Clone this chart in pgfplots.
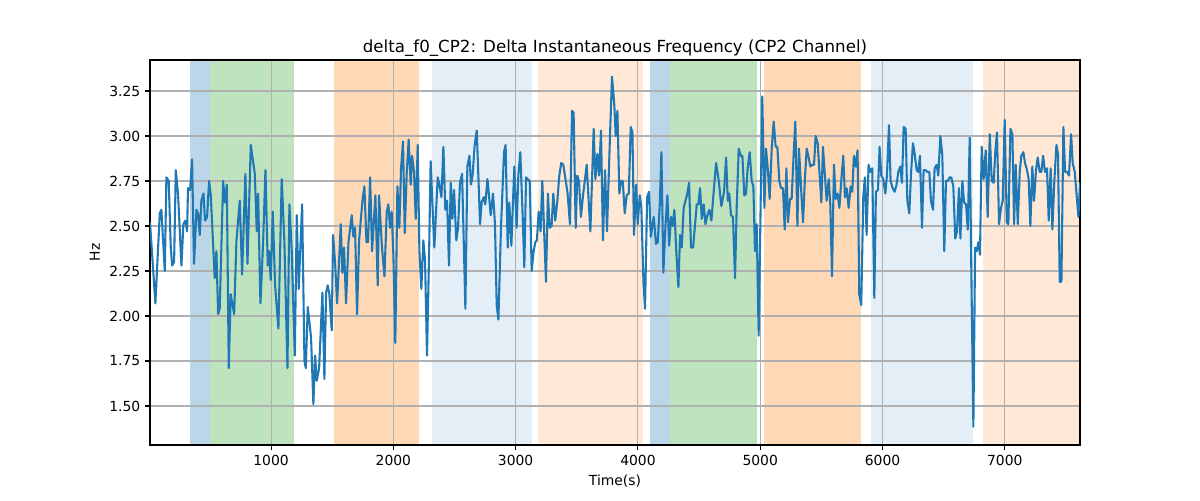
\documentclass[border=0pt]{standalone}
\usepackage{pgfplots}
\pgfplotsset{compat=1.18}
\usepackage{pgfplotstable}
\usepackage{fontspec}
\setmainfont{DejaVu Sans}
\definecolor{tabblue}{HTML}{1F77B4}
\definecolor{tabgreen}{HTML}{2CA02C}
\definecolor{taborange}{HTML}{FF7F0E}
\definecolor{gridgray}{HTML}{B0B0B0}
\pgfplotstableread{
x y
10 2.52
54 2.07
90 2.57
103 2.59
131 2.25
144 2.77
163 2.75
180 2.38
191 2.28
207 2.30
221 2.81
240 2.67
267 2.28
283 2.51
300 2.53
313 2.47
321 2.71
338 2.70
354 2.87
370 2.29
390 2.59
403 2.57
417 2.45
430 2.64
447 2.68
460 2.53
477 2.55
493 2.75
507 2.67
539 2.21
553 2.36
567 2.01
580 2.04
608 2.75
624 2.63
638 2.73
654 1.71
670 2.12
698 2.01
717 2.42
744 2.64
763 2.23
790 2.79
807 2.29
834 2.95
867 2.79
883 2.47
894 2.68
913 2.07
935 2.41
954 2.81
973 2.28
984 2.36
997 2.20
1014 2.58
1033 2.17
1060 1.93
1087 2.76
1109 2.41
1134 1.71
1150 2.62
1169 2.36
1194 1.78
1210 2.56
1226 2.15
1254 2.62
1273 1.75
1284 1.71
1300 2.05
1327 1.88
1346 1.51
1360 1.78
1374 1.64
1393 1.71
1420 2.13
1436 1.65
1450 2.13
1463 2.17
1477 2.12
1496 1.92
1507 2.45
1523 2.30
1540 2.07
1570 2.51
1583 2.24
1597 2.38
1613 2.07
1633 2.41
1660 2.56
1673 2.44
1687 2.49
1703 2.01
1720 2.42
1747 2.64
1763 2.72
1780 2.41
1793 2.41
1810 2.77
1826 2.36
1853 2.67
1872 2.17
1883 2.67
1905 2.40
1927 2.22
1946 2.58
1959 2.62
1973 2.49
1986 2.58
2000 2.34
2016 1.85
2033 2.72
2049 2.49
2063 2.82
2079 2.97
2093 2.46
2109 2.79
2125 2.98
2142 2.73
2153 2.89
2169 2.80
2183 2.54
2199 2.95
2213 2.36
2229 2.15
2245 2.42
2259 2.31
2275 1.78
2292 2.34
2305 2.86
2319 2.63
2335 2.38
2349 2.58
2363 2.77
2376 2.73
2393 2.66
2409 2.94
2425 2.59
2439 2.64
2455 2.28
2469 2.74
2483 2.54
2496 2.70
2515 2.42
2529 2.49
2545 2.74
2562 2.79
2589 2.04
2605 2.83
2622 2.89
2635 2.73
2649 2.79
2665 2.95
2682 3.03
2709 2.51
2722 2.63
2739 2.66
2752 2.62
2769 2.76
2782 2.67
2796 2.56
2815 2.68
2831 2.51
2845 2.06
2859 1.98
2880 2.49
2905 2.91
2918 2.95
2935 2.38
2948 2.63
2965 2.39
2989 2.83
3008 2.49
3022 2.78
3038 2.91
3055 2.60
3071 2.27
3085 2.77
3098 2.76
3115 2.75
3131 2.25
3147 2.36
3161 2.41
3174 2.42
3188 2.58
3204 2.47
3218 2.75
3248 2.19
3264 2.68
3278 2.49
3294 2.50
3308 2.68
3324 2.53
3341 2.64
3357 2.78
3373 2.85
3390 2.84
3403 2.78
3425 2.68
3444 2.51
3461 3.14
3474 3.13
3491 2.49
3504 2.78
3518 2.75
3534 2.55
3551 2.67
3567 2.76
3581 2.84
3611 2.47
3638 3.04
3652 2.76
3668 2.90
3682 2.78
3698 3.03
3714 2.42
3731 2.81
3747 2.47
3771 2.99
3788 3.33
3807 3.17
3818 3.00
3832 3.14
3848 2.68
3862 2.75
3876 2.75
3892 2.57
3908 2.67
3925 2.68
3941 3.05
3955 3.02
3968 2.45
3985 2.73
3998 2.51
4015 2.67
4028 2.60
4045 2.19
4058 2.04
4075 2.66
4091 2.69
4105 2.44
4129 2.55
4148 2.40
4162 2.41
4178 2.61
4192 2.91
4208 2.24
4225 2.50
4241 2.67
4255 2.39
4271 2.55
4284 2.50
4298 2.59
4314 2.35
4331 2.16
4344 2.45
4358 2.38
4374 2.60
4404 2.68
4418 2.74
4434 2.38
4451 2.38
4481 2.62
4494 2.62
4508 2.71
4522 2.54
4538 2.62
4552 2.51
4568 2.56
4584 2.59
4601 2.53
4617 2.67
4639 2.85
4661 2.75
4682 2.61
4704 2.69
4721 2.88
4735 2.64
4747 2.68
4761 2.56
4777 2.55
4794 2.21
4807 2.59
4824 2.93
4840 2.89
4854 2.89
4870 2.67
4884 2.68
4897 2.82
4914 2.91
4930 2.75
4944 2.72
4957 2.36
4971 2.51
4987 1.89
5017 3.22
5034 2.60
5047 2.93
5064 2.80
5077 2.65
5094 2.93
5110 3.08
5126 2.94
5140 2.94
5156 2.75
5170 2.71
5186 2.71
5200 2.48
5214 2.82
5227 2.52
5244 2.65
5257 2.65
5274 2.91
5287 3.08
5304 2.50
5317 2.93
5334 2.71
5350 2.52
5366 2.77
5380 2.93
5396 2.88
5410 2.83
5426 2.84
5440 2.84
5453 3.00
5470 2.96
5486 2.78
5500 2.63
5513 2.94
5530 2.77
5543 2.64
5560 2.76
5573 2.62
5587 2.22
5603 2.84
5617 2.65
5633 2.68
5647 2.60
5666 2.78
5679 2.89
5693 2.66
5707 2.71
5723 2.60
5739 2.72
5753 2.69
5766 2.89
5780 2.83
5796 2.92
5810 2.12
5826 2.06
5843 2.67
5856 2.77
5870 2.45
5886 2.84
5900 2.80
5916 2.82
5933 2.10
5946 2.69
5963 2.70
5976 2.94
5990 2.78
6006 2.76
6023 2.68
6036 2.78
6053 3.06
6066 2.75
6083 2.71
6099 2.69
6115 2.73
6129 2.80
6145 2.83
6159 2.74
6173 3.05
6189 3.04
6203 2.64
6219 2.57
6233 2.79
6249 2.96
6263 2.90
6279 2.81
6293 2.80
6306 2.89
6323 2.49
6336 2.81
6353 2.81
6366 2.80
6383 2.80
6396 2.64
6413 2.59
6426 2.82
6443 2.84
6456 2.78
6473 3.00
6489 2.89
6505 2.36
6519 2.75
6533 2.75
6549 2.77
6562 2.77
6579 2.72
6595 2.43
6609 2.47
6625 2.71
6637 2.43
6653 2.75
6667 2.63
6683 2.62
6697 2.48
6713 2.99
6729 2.10
6743 1.385
6757 2.38
6770 2.36
6784 2.41
6797 2.34
6811 2.94
6827 2.76
6844 2.92
6860 2.55
6877 3.01
6893 2.75
6909 2.74
6923 2.92
6936 3.02
6953 2.51
6969 2.60
6983 2.64
6999 3.09
7016 2.52
7029 2.51
7046 3.04
7062 3.01
7076 2.51
7089 2.84
7106 2.51
7122 2.80
7135 2.89
7152 2.91
7165 2.85
7182 2.81
7195 2.76
7209 2.50
7225 2.83
7239 2.64
7255 2.81
7269 2.88
7285 2.80
7299 2.80
7313 2.89
7329 2.80
7345 2.82
7359 2.53
7375 2.82
7389 2.48
7405 2.75
7422 2.95
7435 2.90
7449 2.19
7463 2.19
7479 3.05
7493 2.80
7509 2.80
7525 2.78
7542 3.01
7555 2.85
7572 2.80
7591 2.64
7602 2.55
7615 2.74
}\datatable
\pgfplotsset{
  myframe/.style={
    at={(150*0.72pt,55*0.72pt)}, anchor=south west,
    scale only axis, width=930*0.72pt, height=385*0.72pt,
    xmin=10, xmax=7615, ymin=1.283, ymax=3.422,
  }
}
\begin{document}
\begin{tikzpicture}[x=0.72pt,y=0.72pt]
\path[use as bounding box] (0,0) rectangle (1200,500);
\begin{axis}[myframe, hide axis, clip=true]
\addplot[draw=none, fill=tabblue, fill opacity=0.3] coordinates {(335,4) (499,4)} \closedcycle;
\addplot[draw=none, fill=tabgreen, fill opacity=0.3] coordinates {(499,4) (1184,4)} \closedcycle;
\addplot[draw=none, fill=taborange, fill opacity=0.3] coordinates {(1515,4) (2210,4)} \closedcycle;
\addplot[draw=none, fill=tabblue, fill opacity=0.12] coordinates {(2314,4) (3131,4)} \closedcycle;
\addplot[draw=none, fill=taborange, fill opacity=0.17] coordinates {(3186,4) (4039,4)} \closedcycle;
\addplot[draw=none, fill=tabblue, fill opacity=0.3] coordinates {(4099,4) (4265,4)} \closedcycle;
\addplot[draw=none, fill=tabgreen, fill opacity=0.3] coordinates {(4265,4) (4977,4)} \closedcycle;
\addplot[draw=none, fill=taborange, fill opacity=0.3] coordinates {(5031,4) (5822,4)} \closedcycle;
\addplot[draw=none, fill=tabblue, fill opacity=0.12] coordinates {(5906,4) (6737,4)} \closedcycle;
\addplot[draw=none, fill=taborange, fill opacity=0.17] coordinates {(6824,4) (7700,4)} \closedcycle;
\end{axis}
\begin{axis}[
  myframe,
  xtick={1000,2000,...,7000},
  ytick={1.5,1.75,2.0,2.25,2.5,2.75,3.0,3.25},
  yticklabel style={/pgf/number format/.cd, fixed, fixed zerofill, precision=2},
  xticklabel style={/pgf/number format/1000 sep={}},
  /pgf/number format/assume math mode=true,
  tick align=outside, major tick length=3.5pt,
  tick style={black, line width=0.8pt},
  xtick pos=bottom, ytick pos=left,
  grid=major, major grid style={gridgray, line width=0.8pt},
  axis line style={line width=0.8pt},
  tick label style={font=\fontsize{10}{12}\selectfont},
  label style={font=\fontsize{10}{12}\selectfont},
  xlabel={Time(s)}, ylabel={Hz},
  title={delta\_f0\_CP2: Delta Instantaneous Frequency (CP2 Channel)},
  title style={font=\fontsize{12}{14}\selectfont, yshift=-7pt},
  clip=true,
]
\addplot[tabblue, line width=1.5pt, mark=none, line join=round] table[x=x,y=y] {\datatable};
\end{axis}
\end{tikzpicture}
\end{document}
